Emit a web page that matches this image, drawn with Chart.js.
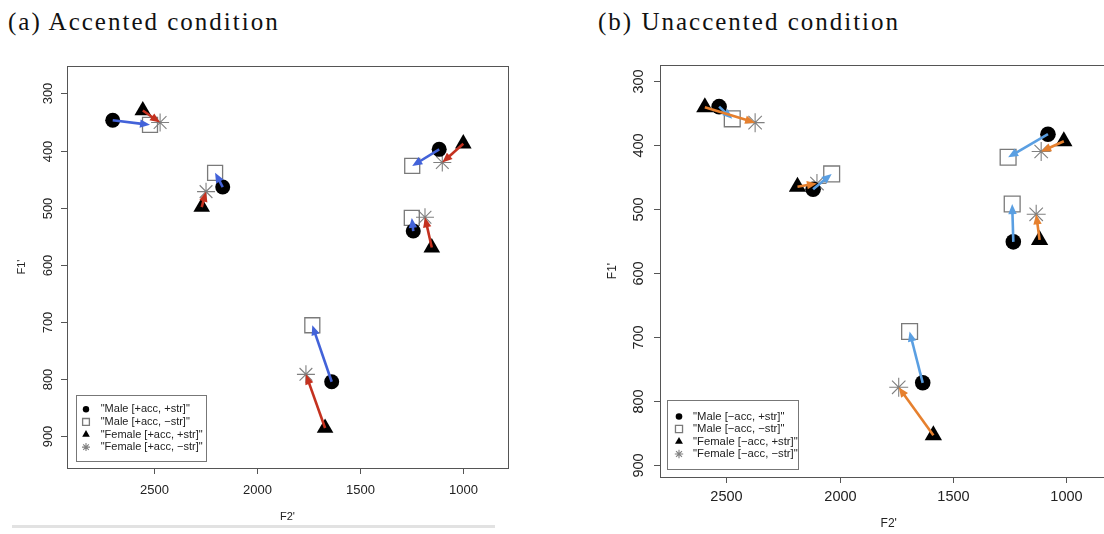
<!DOCTYPE html>
<html lang="en">
<head>
<meta charset="UTF-8">
<title>Vowel space, accented vs unaccented</title>
<script src="https://cdn.jsdelivr.net/npm/chart.js"></script>
<style>
  html, body { margin: 0; padding: 0; background: #fff; overflow: hidden; width: 1104px; height: 534px; }
  .title { position: absolute; top: 7px; line-height: 30px; font-family: "Liberation Serif", serif; font-size: 25px; letter-spacing: 2px; color: #111; white-space: nowrap; }
  #ta { left: 8px; }
  #tb { left: 598px; }
  #ca { position: absolute; left: 0; top: 0; }
  #cb { position: absolute; left: 590px; top: 0; }
  #rule { position: absolute; left: 12px; top: 525px; width: 483px; height: 3px; background: #e2e2e2; }
</style>
</head>
<body>
<div class="title" id="ta">(a) Accented condition</div>
<div class="title" id="tb">(b) Unaccented condition</div>
<canvas id="ca" width="520" height="534"></canvas>
<canvas id="cb" width="540" height="534"></canvas>
<div id="rule"></div>
<script>
// vowel clusters, same order in every array
const vowels = ['i', 'e', 'a', 'u', 'o'];
const f2Ticks = [2500, 2000, 1500, 1000];
const f1Ticks = [300, 400, 500, 600, 700, 800, 900];

// (a) accented condition
const accLabels = ['"Male [+acc, +str]"', '"Male [+acc, \u2212str]"', '"Female [+acc, +str]"', '"Female [+acc, \u2212str]"'];
const accMaleStrF2 = [2702, 2168, 1639, 1117, 1243];
const accMaleStrF1 = [347, 464, 805, 398, 541];
const accMaleUnstrF2 = [2521, 2205, 1733, 1248, 1250];
const accMaleUnstrF1 = [355, 439, 706, 427, 518];
const accFemStrF2 = [2556, 2270, 1671, 1000, 1153];
const accFemStrF1 = [330, 499, 886, 388, 570];
const accFemUnstrF2 = [2472, 2249, 1764, 1102, 1186];
const accFemUnstrF1 = [351, 472, 792, 421, 517];

// (b) unaccented condition
const unaccLabels = ['"Male [\u2212acc, +str]"', '"Male [\u2212acc, \u2212str]"', '"Female [\u2212acc, +str]"', '"Female [\u2212acc, \u2212str]"'];
const unaccMaleStrF2 = [2532, 2117, 1633, 1080, 1233];
const unaccMaleStrF1 = [340, 469, 771, 383, 551];
const unaccMaleUnstrF2 = [2474, 2035, 1691, 1256, 1238];
const unaccMaleUnstrF1 = [359, 445, 691, 419, 492];
const unaccFemStrF2 = [2595, 2186, 1586, 1010, 1117];
const unaccFemStrF1 = [341, 465, 853, 394, 548];
const unaccFemUnstrF2 = [2373, 2100, 1739, 1110, 1132];
const unaccFemUnstrF1 = [365, 460, 778, 410, 508];

function pts(xs, ys) {
  return xs.map((x, i) => ({x: x, y: ys[i]}));
}

const styles = [
  {pointStyle: 'circle', backgroundColor: '#000', borderColor: '#000', borderWidth: 0},
  {pointStyle: 'rect', backgroundColor: 'rgba(0,0,0,0)', borderColor: '#7a7a7a', borderWidth: 1.3},
  {pointStyle: 'triangle', backgroundColor: '#000', borderColor: '#000', borderWidth: 0},
  {pointStyle: 'star', backgroundColor: 'rgba(0,0,0,0)', borderColor: '#808080', borderWidth: 1.1}
];

function arrow(ctx, x0, y0, x1, y1, color) {
  const ang = Math.atan2(y1 - y0, x1 - x0);
  const len = 10, half = 4.2;
  const bx = x1 - Math.cos(ang) * len, by = y1 - Math.sin(ang) * len;
  ctx.strokeStyle = color;
  ctx.fillStyle = color;
  ctx.lineWidth = 2.6;
  ctx.beginPath();
  ctx.moveTo(x0, y0);
  ctx.lineTo(bx + Math.cos(ang) * 2, by + Math.sin(ang) * 2);
  ctx.stroke();
  ctx.beginPath();
  ctx.moveTo(x1, y1);
  ctx.lineTo(bx - Math.sin(ang) * half, by + Math.cos(ang) * half);
  ctx.lineTo(bx + Math.sin(ang) * half, by - Math.cos(ang) * half);
  ctx.closePath();
  ctx.fill();
}

function makeChart(id, p) {
  const sets = p.series.map((s, k) => Object.assign({
    label: p.labels[k],
    data: pts(s[0], s[1]),
    pointRadius: p.radii[k],
    pointHoverRadius: p.radii[k]
  }, styles[k]));

  const frame = {
    id: 'frame',
    beforeDatasetsDraw(chart) {
      const ctx = chart.ctx, a = chart.chartArea;
      const sx = chart.scales.x, sy = chart.scales.y;
      ctx.save();
      ctx.strokeStyle = '#555';
      ctx.lineWidth = 1;
      ctx.strokeRect(a.left + 0.5, a.top + 0.5, a.right - a.left, a.bottom - a.top);
      ctx.fillStyle = '#222';
      ctx.font = p.tickFont + 'px "Liberation Sans", Arial, sans-serif';
      ctx.textAlign = 'center';
      ctx.textBaseline = 'middle';
      // x ticks
      f2Ticks.forEach(v => {
        const x = Math.round(sx.getPixelForValue(v)) + 0.5;
        ctx.beginPath();
        ctx.moveTo(x, a.bottom);
        ctx.lineTo(x, a.bottom + 6);
        ctx.stroke();
        ctx.fillText(String(v), x, a.bottom + p.xLabGap);
      });
      // y ticks, rotated like base R
      f1Ticks.forEach(v => {
        const y = Math.round(sy.getPixelForValue(v)) + 0.5;
        ctx.beginPath();
        ctx.moveTo(a.left, y);
        ctx.lineTo(a.left - 6, y);
        ctx.stroke();
        ctx.save();
        ctx.translate(a.left - p.yLabGap, y);
        ctx.rotate(-Math.PI / 2);
        ctx.fillText(String(v), 0, 0);
        ctx.restore();
      });
      ctx.font = p.titleFont + 'px "Liberation Sans", Arial, sans-serif';
      ctx.fillText("F2'", (a.left + a.right) / 2 - p.xTitleShift, a.bottom + p.xTitleGap);
      ctx.save();
      ctx.translate(a.left - p.yTitleGap, (a.top + a.bottom) / 2);
      ctx.rotate(-Math.PI / 2);
      ctx.fillText("F1'", 0, 0);
      ctx.restore();
      ctx.restore();
    },
    afterDatasetsDraw(chart) {
      const ctx = chart.ctx, a = chart.chartArea;
      const sx = chart.scales.x, sy = chart.scales.y;
      const s = p.series;
      ctx.save();
      vowels.forEach((v, i) => {
        arrow(ctx, sx.getPixelForValue(s[0][0][i]), sy.getPixelForValue(s[0][1][i]),
          sx.getPixelForValue(s[1][0][i]), sy.getPixelForValue(s[1][1][i]), p.maleColor);
        arrow(ctx, sx.getPixelForValue(s[2][0][i]), sy.getPixelForValue(s[2][1][i]),
          sx.getPixelForValue(s[3][0][i]), sy.getPixelForValue(s[3][1][i]), p.femColor);
      });
      // legend box in the lower left corner
      const L = p.legend;
      const bx = a.left + L.dx, by = a.bottom - L.dy - L.h;
      ctx.fillStyle = '#fff';
      ctx.fillRect(bx, by, L.w, L.h);
      ctx.strokeStyle = '#777';
      ctx.lineWidth = 1;
      ctx.strokeRect(bx + 0.5, by + 0.5, L.w, L.h);
      ctx.font = L.font + 'px "Liberation Sans", Arial, sans-serif';
      ctx.textAlign = 'left';
      ctx.textBaseline = 'middle';
      p.labels.forEach((lab, k) => {
        const y = by + L.first + k * L.step;
        const st = styles[k];
        ctx.fillStyle = st.backgroundColor;
        ctx.strokeStyle = st.borderColor;
        ctx.lineWidth = st.borderWidth || 1;
        Chart.helpers.drawPoint(ctx, {pointStyle: st.pointStyle, radius: L.sym[k], rotation: 0, borderWidth: st.borderWidth}, bx + L.symX, y);
        ctx.fillStyle = '#222';
        ctx.fillText(lab, bx + L.textX, y);
      });
      ctx.restore();
    }
  };

  return new Chart(document.getElementById(id), {
    type: 'scatter',
    data: {datasets: sets},
    options: {
      responsive: false,
      animation: false,
      events: [],
      layout: {padding: p.pad},
      plugins: {legend: {display: false}, tooltip: {enabled: false}},
      scales: {
        x: {type: 'linear', reverse: true, min: p.xMin, max: p.xMax, display: false},
        y: {type: 'linear', reverse: true, min: p.yMin, max: p.yMax, display: false}
      }
    },
    plugins: [frame]
  });
}

makeChart('ca', {
  labels: accLabels,
  series: [[accMaleStrF2, accMaleStrF1], [accMaleUnstrF2, accMaleUnstrF1], [accFemStrF2, accFemStrF1], [accFemUnstrF2, accFemUnstrF1]],
  radii: [7.5, 10.6, 9.6, 9],
  pad: {left: 67, top: 66, right: 12, bottom: 66},
  xMin: 783, xMax: 2924, yMin: 252, yMax: 956,
  tickFont: 13, titleFont: 11,
  xLabGap: 22, yLabGap: 19, xTitleGap: 49, xTitleShift: 0, yTitleGap: 45,
  maleColor: '#4262d9', femColor: '#c4311f',
  legend: {dx: 9, dy: 7, w: 130, h: 66, first: 14.3, step: 12.6, symX: 10, textX: 24.7, font: 11, sym: [3.2, 4.8, 4.4, 4]}
});

makeChart('cb', {
  labels: unaccLabels,
  series: [[unaccMaleStrF2, unaccMaleStrF1], [unaccMaleUnstrF2, unaccMaleUnstrF1], [unaccFemStrF2, unaccFemStrF1], [unaccFemUnstrF2, unaccFemUnstrF1]],
  radii: [7.8, 11.2, 10, 9.5],
  pad: {left: 70, top: 65, right: 10, bottom: 57},
  xMin: 773, xMax: 2793, yMin: 275, yMax: 918,
  tickFont: 14.5, titleFont: 12,
  xLabGap: 20, yLabGap: 21, xTitleGap: 47, xTitleShift: 0, yTitleGap: 47,
  maleColor: '#5a9fe2', femColor: '#e6802e',
  legend: {dx: 7, dy: 8, w: 131, h: 69, first: 16.5, step: 12.5, symX: 12, textX: 26, font: 11.3, sym: [3.3, 5, 4.6, 4.2]}
});
</script>
</body>
</html>
